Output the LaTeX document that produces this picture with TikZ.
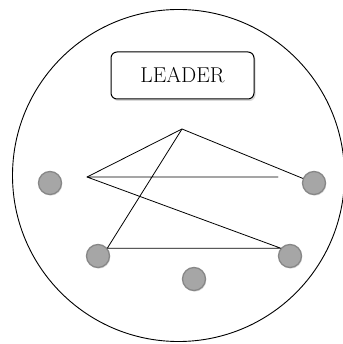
\documentclass[tikz,border=0pt]{standalone}
\usepackage{amsmath, amssymb}
\usetikzlibrary{shapes.geometric,arrows,calc,shadows}

\begin{document}
\begin{tikzpicture}[x=1pt, y=-1pt, line join=round, line cap=round,
	member/.style={circle, draw=black!47, line width=1.3pt, fill=black!35, minimum size=23pt, inner sep=0pt,
		drop shadow={shadow xshift=0.8pt, shadow yshift=-1.2pt, opacity=0.25}},
	leaderbox/.style={draw, rounded corners=6pt, line width=1pt, fill=white, minimum width=143pt, minimum height=47pt,
		font=\fontsize{21.5}{24}\selectfont,
		drop shadow={shadow xshift=1.5pt, shadow yshift=-2pt, opacity=0.3}}]
			\useasboundingbox (0,0) rectangle (342,344);
			\draw[line width=0.9pt] (178.5,175.5) circle (166);
			\node[leaderbox] (lead) at (182.5,75.5) {LEADER};
			\foreach \x\y\t in {50/183/L,314/183/R,98/256/BL,290/256/BR,194/279/BM}
			\node[member] (\t) at (\x,\y) {};
			\foreach \x\y\t in {182/129/A,87/177/P,278/177/E}
			\coordinate (\t) at (\x,\y);
			\draw[line width=0.8pt] (P)--(A)--(R);
			\draw[line width=0.8pt] (A)--(BL.40)--(BR.140)--(P)--(E);
		\end{tikzpicture}
\end{document}
